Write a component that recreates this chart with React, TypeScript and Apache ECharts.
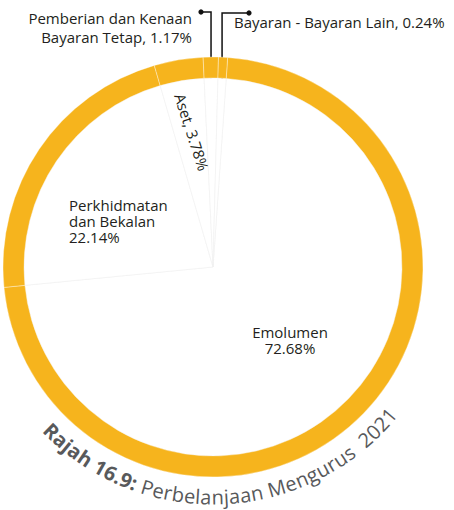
import React, { useEffect, useRef } from 'react';
import * as echarts from 'echarts';

const categories = ['Emolumen', 'Perkhidmatan dan Bekalan', 'Aset', 'Pemberian dan Kenaan Bayaran Tetap', 'Bayaran - Bayaran Lain'];
const labelNames = ['Emolumen\n', 'Perkhidmatan\ndan Bekalan\n', 'Aset, ', 'Pemberian dan Kenaan\nBayaran Tetap, ', 'Bayaran - Bayaran Lain, '];
const values = [72.68, 22.14, 3.78, 1.17, 0.24];
const titleBold = 'Rajah 16.9:';
const titleRest = ' Perbelanjaan Mengurus  2021';

const CX = 213;
const CY = 267;
const R_IN = 189;
const R_OUT = 210;
const START = 86;
const MIN_ANGLE = 2.5;
const ORANGE = '#F6B41D';
const TEXT = '#231f20';
const GRAY = '#58595b';
const FONT = "'Open Sans', 'Noto Sans', sans-serif";
const TITLE_SIZE = 20;
const R_TITLE = 230;
const TITLE_CENTER_DEG = 2.6;

function buildTitle(): any[] {
  const canvas = document.createElement('canvas');
  const ctx = canvas.getContext('2d') as CanvasRenderingContext2D;
  const chars: { ch: string; bold: boolean; w: number }[] = [];
  const push = (s: string, bold: boolean) => {
    ctx.font = `${bold ? 'bold ' : ''}${TITLE_SIZE}px ${FONT}`;
    for (const ch of s) chars.push({ ch, bold, w: ctx.measureText(ch).width });
  };
  push(titleBold, true);
  push(titleRest, false);
  const total = chars.reduce((a, c) => a + c.w, 0);
  const phiC = (TITLE_CENTER_DEG * Math.PI) / 180;
  const phi0 = phiC - total / 2 / R_TITLE;
  let acc = 0;
  const els: any[] = [];
  for (const c of chars) {
    const phi = phi0 + (acc + c.w / 2) / R_TITLE;
    acc += c.w;
    if (c.ch.trim() === '') continue;
    els.push({
      type: 'text',
      x: CX + R_TITLE * Math.sin(phi),
      y: CY + R_TITLE * Math.cos(phi),
      rotation: phi,
      silent: true,
      style: {
        text: c.ch,
        fill: GRAY,
        font: `${c.bold ? 'bold ' : ''}${TITLE_SIZE}px ${FONT}`,
        align: 'center',
        verticalAlign: 'middle',
      },
    });
  }
  return els;
}

const labelPlacement: any[] = [
  { dx: 77, dy: 73, align: 'center' },
  { dx: -144, dy: -46, align: 'left' },
  { dx: -21, dy: -135, align: 'center', rotate: -72 },
  { x: 192, y: 27, align: 'right', lineStartY: 90, lineTopY: 12, lineEndX: 201 },
  { x: 234, y: 22, align: 'left', lineStartY: 100, lineTopY: 13, lineEndX: 249 },
];

export default function App() {
  const ref = useRef<HTMLDivElement>(null);
  useEffect(() => {
    if (!ref.current) return;
    const chart = echarts.init(ref.current, undefined, { renderer: 'svg' });
    const innerData = categories.map((name, i) => {
      const outside = i >= 3;
      return {
        name,
        value: values[i],
        label: {
          show: true,
          position: outside ? 'outside' : 'inside',
          formatter: labelNames[i] + values[i].toFixed(2) + '%',
          lineHeight: i === 3 ? 19 : 16,
          align: labelPlacement[i].align,
        },
        labelLine: { show: outside, lineStyle: { color: '#111', width: 1.5 } },
      };
    });
    const option: any = {
      animation: false,
      series: [
        {
          type: 'pie',
          silent: true,
          center: [CX, CY],
          radius: [0, R_IN],
          startAngle: START,
          minAngle: MIN_ANGLE,
          avoidLabelOverlap: false,
          itemStyle: { color: '#ffffff', borderColor: '#f0f0f0', borderWidth: 0.6 },
          emphasis: { disabled: true },
          label: {
            color: TEXT,
            fontFamily: FONT,
            fontSize: 15,
          },
          labelLayout: (params: any) => {
            const p = labelPlacement[params.dataIndex];
            const out: any = {
              align: p.align,
              verticalAlign: 'middle',
            };
            if (p.dx !== undefined) {
              out.x = CX + p.dx;
              out.y = CY + p.dy;
            } else {
              out.x = p.x;
              out.y = p.y;
            }
            if (p.rotate !== undefined) out.rotate = p.rotate;
            if (p.lineStartY !== undefined && params.labelLinePoints) {
              const mx = params.labelLinePoints[0][0];
              out.labelLinePoints = [
                [mx, p.lineStartY],
                [mx, p.lineTopY],
                [p.lineEndX, p.lineTopY],
              ];
            }
            return out;
          },
          data: innerData,
        },
        {
          type: 'pie',
          silent: true,
          center: [CX, CY],
          radius: [R_IN, R_OUT],
          startAngle: START,
          minAngle: MIN_ANGLE,
          itemStyle: { color: ORANGE, borderColor: 'rgba(255,255,255,0.45)', borderWidth: 0.8 },
          emphasis: { disabled: true },
          label: { show: false },
          labelLine: { show: false },
          data: categories.map((name, i) => ({ name, value: values[i] })),
        },
      ],
      graphic: [
        { type: 'circle', shape: { cx: 201, cy: 12, r: 2.6 }, style: { fill: '#111' }, silent: true },
        { type: 'circle', shape: { cx: 249, cy: 13, r: 2.6 }, style: { fill: '#111' }, silent: true },
        ...buildTitle(),
      ],
    };
    chart.setOption(option);
    return () => chart.dispose();
  }, []);
  return <div ref={ref} style={{ position: 'absolute', left: 0, top: 0, width: 454, height: 510 }} />;
}
